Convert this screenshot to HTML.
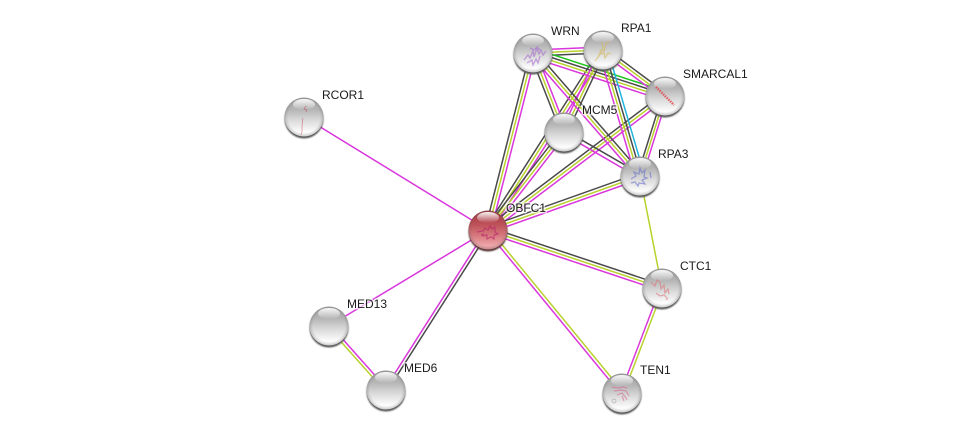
<!DOCTYPE html>
<html><head><meta charset="utf-8"><style>
html,body{margin:0;padding:0;background:#fff}
svg{display:block}
text{font-family:"Liberation Sans",sans-serif;font-size:12px;fill:#1a1a1a;paint-order:stroke;stroke:rgba(255,255,255,.65);stroke-width:3px;stroke-linejoin:round}
.k{stroke:#4a4a4a}.y{stroke:#b9d12c}.m{stroke:#d936dc}.g{stroke:#1fc41f}.c{stroke:#22b5dc}
line{stroke-width:1.5}
.s{fill:none;stroke-width:.7;opacity:.6}
</style></head><body>
<svg width="976" height="437" viewBox="0 0 976 437" xmlns="http://www.w3.org/2000/svg">
<defs>
<linearGradient id="gb" x1="0" y1="0" x2="0" y2="1"><stop offset="0" stop-color="#a8a8a8"/><stop offset=".3" stop-color="#b4b4b4"/><stop offset=".6" stop-color="#dcdcdc"/><stop offset=".88" stop-color="#fcfcfc"/><stop offset="1" stop-color="#f4f4f4"/></linearGradient>
<linearGradient id="gr" x1="0" y1="0" x2="0" y2="1"><stop offset="0" stop-color="#a2343c"/><stop offset=".35" stop-color="#bd5058"/><stop offset=".65" stop-color="#d87a80"/><stop offset=".9" stop-color="#eea6aa"/><stop offset="1" stop-color="#e6989c"/></linearGradient>
<radialGradient id="ed" cx=".5" cy=".5" r=".5"><stop offset=".82" stop-color="#666" stop-opacity="0"/><stop offset="1" stop-color="#555" stop-opacity=".28"/></radialGradient>
<linearGradient id="hl" x1="0" y1="0" x2="0" y2="1"><stop offset="0" stop-color="#fff" stop-opacity=".95"/><stop offset="1" stop-color="#fff" stop-opacity="0"/></linearGradient>
<filter id="bl" x="-20%" y="-20%" width="140%" height="140%"><feGaussianBlur stdDeviation=".7"/></filter>
<g id="b"><circle cx="0" cy="2" r="19.5" fill="#555" filter="url(#bl)"/><circle r="19.5" fill="url(#gb)"/><circle r="19.5" fill="url(#ed)"/><ellipse cx="0" cy="-12.5" rx="11" ry="5.5" fill="url(#hl)"/></g>
<g id="r"><circle cx="0" cy="2" r="19.5" fill="#533" filter="url(#bl)"/><circle r="19.5" fill="url(#gr)"/><circle r="19.5" fill="url(#ed)"/><ellipse cx="0" cy="-12.5" rx="11" ry="5.5" fill="url(#hl)"/></g>
</defs>

<!-- OBFC1-WRN -->
<line class="k" x1="485.1" y1="229.3" x2="530.1" y2="52.3"/><line class="y" x1="488" y1="230" x2="533" y2="53"/><line class="m" x1="490.9" y1="230.7" x2="535.9" y2="53.7"/>
<!-- OBFC1-RPA1 -->
<line class="k" x1="485.5" y1="228.4" x2="600.5" y2="48.4"/><line class="y" x1="488" y1="230" x2="603" y2="50"/><line class="m" x1="490.5" y1="231.6" x2="605.5" y2="51.6"/>
<!-- OBFC1-MCM5 -->
<line class="k" x1="485.6" y1="228.2" x2="561.6" y2="130.2"/><line class="y" x1="488" y1="230" x2="564" y2="132"/><line class="m" x1="490.4" y1="231.8" x2="566.4" y2="133.8"/>
<!-- OBFC1-SMARCAL1 -->
<line class="k" x1="486.2" y1="227.6" x2="663.2" y2="93.6"/><line class="y" x1="488" y1="230" x2="665" y2="96"/><line class="m" x1="489.8" y1="232.4" x2="666.8" y2="98.4"/>
<!-- OBFC1-RPA3 -->
<line class="k" x1="487" y1="227.2" x2="639" y2="173.2"/><line class="y" x1="488" y1="230" x2="640" y2="176"/><line class="m" x1="489" y1="232.8" x2="641" y2="178.8"/>
<!-- OBFC1-CTC1 -->
<line class="k" x1="489" y1="227.2" x2="663" y2="285.2"/><line class="y" x1="488" y1="230" x2="662" y2="288"/><line class="m" x1="487" y1="232.8" x2="661" y2="290.8"/>
<!-- OBFC1-TEN1 -->
<line class="m" x1="486.8" y1="231" x2="620.8" y2="394"/><line class="y" x1="489.2" y1="229" x2="623.2" y2="392"/>
<!-- OBFC1-MED6 -->
<line class="m" x1="486.7" y1="229.2" x2="384.7" y2="389.2"/><line class="k" x1="489.3" y1="230.8" x2="387.3" y2="390.8"/>
<!-- singles -->
<line class="m" x1="488" y1="230" x2="329" y2="326"/>
<line class="m" x1="488" y1="230" x2="304" y2="117"/>
<line class="y" x1="640" y1="176" x2="662" y2="288"/>
<!-- MED13-MED6 -->
<line class="m" x1="330.1" y1="325" x2="387.1" y2="389"/><line class="y" x1="327.9" y1="327" x2="384.9" y2="391"/>
<!-- CTC1-TEN1 -->
<line class="m" x1="660.6" y1="287.5" x2="620.6" y2="392.5"/><line class="y" x1="663.4" y1="288.5" x2="623.4" y2="393.5"/>
<!-- WRN-RPA1 -->
<line class="m" x1="533" y1="50" x2="603" y2="47"/><line class="y" x1="533" y1="53" x2="603" y2="50"/><line class="k" x1="533" y1="56" x2="603" y2="53"/>
<!-- WRN-SMARCAL1 -->
<line class="g" x1="534.4" y1="48.7" x2="666.4" y2="91.7"/><line class="k" x1="533.5" y1="51.6" x2="665.5" y2="94.6"/><line class="y" x1="532.5" y1="54.4" x2="664.5" y2="97.4"/><line class="m" x1="531.6" y1="57.3" x2="663.6" y2="100.3"/>
<!-- RPA1-SMARCAL1 -->
<line class="k" x1="604.8" y1="47.6" x2="666.8" y2="93.6"/><line class="y" x1="603" y1="50" x2="665" y2="96"/><line class="m" x1="601.2" y1="52.4" x2="663.2" y2="98.4"/>
<!-- WRN-MCM5 -->
<line class="k" x1="530.2" y1="54.1" x2="561.2" y2="133.1"/><line class="y" x1="533" y1="53" x2="564" y2="132"/><line class="m" x1="535.8" y1="51.9" x2="566.8" y2="130.9"/>
<!-- RPA1-MCM5 -->
<line class="m" x1="600.3" y1="48.7" x2="561.3" y2="130.7"/><line class="y" x1="603" y1="50" x2="564" y2="132"/><line class="k" x1="605.7" y1="51.3" x2="566.7" y2="133.3"/>
<!-- WRN-RPA3 -->
<line class="m" x1="530.7" y1="55" x2="637.7" y2="178"/><line class="y" x1="533" y1="53" x2="640" y2="176"/><line class="k" x1="535.3" y1="51" x2="642.3" y2="174"/>
<!-- RPA1-RPA3 -->
<line class="m" x1="598.7" y1="51.3" x2="635.7" y2="177.3"/><line class="y" x1="601.6" y1="50.4" x2="638.6" y2="176.4"/><line class="k" x1="604.4" y1="49.6" x2="641.4" y2="175.6"/><line class="c" x1="607.3" y1="48.7" x2="644.3" y2="174.7"/>
<!-- SMARCAL1-RPA3 -->
<line class="k" x1="662.5" y1="95.3" x2="637.5" y2="175.3"/><line class="y" x1="665" y1="96" x2="640" y2="176"/><line class="m" x1="667.5" y1="96.7" x2="642.5" y2="176.7"/>
<!-- MCM5-RPA3 -->
<line class="k" x1="565" y1="130.3" x2="641" y2="174.3"/><line class="m" x1="563" y1="133.7" x2="639" y2="177.7"/>

<!-- nodes -->
<use href="#b" x="304" y="117"/>
<use href="#b" x="533" y="53"/>
<use href="#b" x="603" y="50"/>
<use href="#b" x="665" y="96"/>
<use href="#b" x="564" y="132"/>
<use href="#b" x="640" y="176"/>
<use href="#r" x="488" y="230"/>
<use href="#b" x="662" y="288"/>
<use href="#b" x="622" y="393"/>
<use href="#b" x="329" y="326"/>
<use href="#b" x="386" y="390"/>

<!-- structures -->
<path class="s" stroke="#c43b4c" d="M306 106l-2 3 3 1-1 2M303 118l-1 8 0 6 -1 3"/>
<path class="s" stroke="#a66bd0" style="stroke-width:1.3" d="M524 60l4-5 2 3 3-7 1 6 3-9 2 6 2-4 2 5 3-4M527 63l5-3 1 5 3-6 2 4 2-7M530 48l4 2 3-3 3 3"/>
<path class="s" stroke="#d2b85a" style="stroke-width:1.3" d="M595 61l4-5 2-6 3 1 2-7 3-3M598 55l6-2 1 5 3-5 3 1M602 42l1 6-3 4 5 2"/>
<path class="s" stroke="#e34a50" style="stroke-width:2.4;stroke-dasharray:1.5 1;opacity:.85" d="M656 87l18 18"/>
<path class="s" stroke="#6a73cc" style="stroke-width:1.3" d="M631 179l5-3-2-4 5 2 1-6 2 5 3-3-1 7 3 1-5 2 3 4-6-1-1 3-3-4-4 1M650 172l1 6"/>
<path class="s" stroke="#b8206a" style="stroke-width:1.2" d="M477 232l6-1 2-3 3 2 2-4 2 3 3-2 0 5 3 2-4 1 0 4-3-2-4 2 0-4-5 1M481 235l3-1"/>
<path class="s" stroke="#dc7478" style="stroke-width:1.2" d="M651 282l4 4 2-6 3 2 1 7 3-4 1 8 3-4 1 5M656 293l4 3 4-1 3 3M666 300l2-2"/>
<path class="s" stroke="#d66a94" style="stroke-width:1.2" d="M612 387l6 1 5-1 4 1M614 391l7-1 5 1 3 5M617 395l5-2 4 5 1 2M622 396l2 5"/>
<path class="s" stroke="#888" d="M614 399a2 2 0 1 0 .1 0"/>

<!-- labels -->
<text x="322" y="99">RCOR1</text>
<text x="551" y="35">WRN</text>
<text x="621" y="32">RPA1</text>
<text x="683" y="78">SMARCAL1</text>
<text x="582" y="114">MCM5</text>
<text x="658" y="158">RPA3</text>
<text x="506" y="212">OBFC1</text>
<text x="680" y="270">CTC1</text>
<text x="640" y="374">TEN1</text>
<text x="347" y="308">MED13</text>
<text x="404" y="372">MED6</text>
</svg>
</body></html>
